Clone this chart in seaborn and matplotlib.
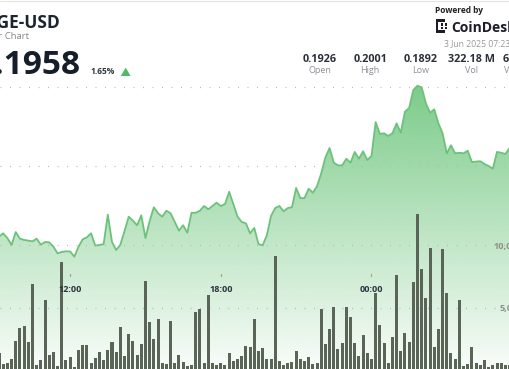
import numpy as np
import pandas as pd
import matplotlib
matplotlib.use("Agg")
import matplotlib.pyplot as plt
import seaborn as sns
from matplotlib.patches import Polygon, Rectangle
from matplotlib.lines import Line2D

# ---------------- data ----------------
bar_times = pd.date_range("2025-06-02 09:10", periods=124, freq="10min")

prices = [
    0.19053, 0.19074, 0.19044, 0.19000, 0.19082, 0.19040, 0.19032, 0.19028, 0.19023, 0.19040,
    0.19002, 0.19019, 0.19017, 0.18989, 0.18947, 0.18956, 0.18960, 0.18959, 0.18926, 0.18989,
    0.19036, 0.19049, 0.19074, 0.18996, 0.19000, 0.19006, 0.19192, 0.19019, 0.18968, 0.19002,
    0.19089, 0.19179, 0.19154, 0.19125, 0.19188, 0.19044, 0.19152, 0.19239, 0.19201, 0.19179,
    0.19217, 0.19201, 0.19146, 0.19091, 0.19125, 0.19078, 0.19204, 0.19204, 0.19217, 0.19247,
    0.19226, 0.19247, 0.19268, 0.19247, 0.19259, 0.19337, 0.19259, 0.19179, 0.19146, 0.19137,
    0.19074, 0.19108, 0.19006, 0.18998, 0.19061, 0.19184, 0.19234, 0.19247, 0.19213, 0.19234,
    0.19239, 0.19361, 0.19297, 0.19297, 0.19356, 0.19331, 0.19373, 0.19454, 0.19555, 0.19614,
    0.19521, 0.19504, 0.19504, 0.19546, 0.19521, 0.19589, 0.19546, 0.19593, 0.19538, 0.19563,
    0.19778, 0.19703, 0.19707, 0.19690, 0.19707, 0.19770, 0.19711, 0.19844, 0.19867, 0.19981,
    0.20008, 0.19998, 0.19897, 0.19837, 0.19859, 0.19770, 0.19707, 0.19580, 0.19631, 0.19580,
    0.19584, 0.19580, 0.19597, 0.19525, 0.19528, 0.19530, 0.19513, 0.19500, 0.19483, 0.19589,
    0.19584, 0.19576, 0.19614, 0.19630,
]

volumes_m = [
    1.43, 0.56, 0.64, 0.95, 2.38, 3.41, 3.57, 2.30, 6.90, 0.48,
    0.87, 5.63, 1.27, 1.51, 0.40, 8.65, 0.87, 1.11, 0.32, 1.67,
    2.06, 2.06, 0.64, 1.03, 1.51, 0.87, 1.67, 2.30, 1.51, 3.49,
    1.19, 2.94, 2.38, 1.27, 2.14, 7.14, 3.89, 2.54, 4.13, 0.64,
    0.56, 3.97, 0.64, 1.27, 0.71, 0.40, 0.48, 4.68, 4.92, 0.64,
    6.03, 0.64, 0.48, 0.64, 0.48, 1.43, 0.79, 0.95, 1.19, 1.98,
    1.90, 4.13, 1.59, 1.83, 0.95, 0.95, 9.13, 0.79, 0.48, 0.64,
    0.71, 1.59, 0.95, 0.79, 1.11, 0.56, 0.64, 4.92, 2.14, 3.33,
    5.08, 1.75, 2.22, 5.08, 4.29, 2.22, 1.19, 2.86, 1.43, 0.95,
    6.19, 3.65, 2.22, 0.64, 2.70, 7.62, 1.59, 3.02, 2.30, 7.06,
    12.46, 8.10, 5.79, 9.76, 1.90, 3.33, 9.68, 6.19, 1.43, 0.95,
    5.63, 0.40, 0.56, 1.90, 0.64, 0.48, 0.87, 0.32, 0.48, 0.64,
    0.64, 0.48, 0.48, 0.56,
]

time_labels = ["12:00", "18:00", "00:00"]
time_label_hours = [12, 18, 24]
price_grid = [0.200, 0.195]
vol_grid_m = [10, 5]
vol_grid_labels = ["10,000,000", "5,000,000"]

ticker = "DOGE-USD"
subtitle = "Bar Chart"
last_price = "0.1958"
change_pct = "1.65%"
stats_values = ["0.1926", "0.2001", "0.1892", "322.18 M", "63.08 M"]
stats_labels = ["Open", "High", "Low", "Vol", "Vol (USD)"]
timestamp = "3 Jun 2025 07:23 UTC"

# ---------------- style ----------------
sns.set_style("white")
plt.rcParams["font.family"] = ["Open Sans", "DejaVu Sans"]

W, H = 510, 369
fig = plt.figure(figsize=(W / 100, H / 100), dpi=100)
fig.patch.set_facecolor("white")


def fx(x):
    return x / W


def fy(y):
    return 1 - y / H


hours = ((bar_times - pd.Timestamp("2025-06-02")).total_seconds() / 3600).to_numpy()
vol = np.array(volumes_m) * 1e6

# axis limits chosen so that the crop matches the reference
x0, x1 = 9.2065, 9.2065 + W / 25.11
pb, ptop = 0.182152, 0.205506
vb, vtop = 0.1587e6, 29.444e6

ax = fig.add_axes([0, 0, 1, 1])
ax.set_axis_off()

# gradient area below price line
grad_n = 256
frac = np.linspace(0, 1, grad_n)
alpha = np.clip(0.04 + (0.82 - 0.04) * frac / 0.77, 0, 0.85)
rgba = np.zeros((grad_n, 1, 4))
rgba[:, 0, 0] = 96 / 255
rgba[:, 0, 1] = 192 / 255
rgba[:, 0, 2] = 112 / 255
rgba[:, 0, 3] = alpha
im = ax.imshow(rgba, extent=[x0, x1, pb, ptop], origin="lower", aspect="auto",
               zorder=1, interpolation="bilinear")
verts = list(zip(hours, prices)) + [(hours[-1], pb), (hours[0], pb)]
clip = Polygon(verts, closed=True, transform=ax.transData, facecolor="none",
               edgecolor="none")
ax.add_patch(clip)
im.set_clip_path(clip)

for p in price_grid:
    ax.axhline(p, color="#b8b8b8", lw=0.9, linestyle=(0, (0.8, 6.8)), zorder=2)

sns.lineplot(x=hours, y=prices, ax=ax, color="#6cc27a", linewidth=1.3, zorder=4)
ax.set_xlim(x0, x1)
ax.set_ylim(pb, ptop)

# volume bars
ax2 = ax.twinx()
ax2.set_axis_off()
for v in vol_grid_m:
    ax2.axhline(v * 1e6, color="#b8b8b8", lw=0.9, linestyle=(0, (0.8, 6.8)), zorder=0)
sns.barplot(x=hours, y=vol, native_scale=True, width=0.72, color="#5a6557",
            saturation=1, errorbar=None, ax=ax2, linewidth=0, zorder=2)
ax2.set_axis_off()
ax2.set_xlim(x0, x1)
ax2.set_ylim(vb, vtop)
ax.set_xlim(x0, x1)

# time labels with small ticks (drawn above the bars)
xt = ax2.get_xaxis_transform()
for h, lab in zip(time_label_hours, time_labels):
    ax2.text(h, fy(289), lab, transform=xt, ha="center", va="center",
             fontsize=6.6, fontweight="bold", color="#2d3340", zorder=10)
    ax2.plot([h, h], [fy(273.8), fy(276.2)], transform=xt, color="#a0a0a0",
             lw=0.9, zorder=10)

# volume axis labels (cut off at right)
fig.text(fx(494), fy(246), vol_grid_labels[0], ha="left", va="center",
         fontsize=6.6, fontweight="bold", color="#8d9389")
fig.text(fx(499.3), fy(308.7), vol_grid_labels[1], ha="left", va="center",
         fontsize=6.6, fontweight="bold", color="#8d9389")

# ---------------- header ----------------
fig.add_artist(Line2D([0, 1], [fy(0.6), fy(0.6)], color="#e4e4e4", lw=0.8))
fig.text(fx(60.5), fy(28.3), ticker, ha="right", va="baseline", fontsize=12.5,
         fontweight="bold", color="#1b2431")
fig.text(fx(29.2), fy(39.3), subtitle, ha="right", va="baseline", fontsize=6.8,
         color="#80858c")
fig.text(fx(80.5), fy(74), last_price, ha="right", va="baseline", fontsize=24,
         fontweight="bold", color="#161e2b")
fig.text(fx(90), fy(74), change_pct, ha="left", va="baseline", fontsize=6,
         fontweight="bold", color="#2c323a")
tri = Polygon([(fx(120.8), fy(76)), (fx(130.6), fy(76)), (fx(125.7), fy(67.6))],
              closed=True, transform=fig.transFigure, facecolor="#4fba68",
              edgecolor="none")
fig.add_artist(tri)

fig.text(fx(435.5), fy(13), "Powered by", ha="left", va="baseline", fontsize=6,
         fontweight="bold", color="#222222")
# simple CoinDesk mark
for (rx, ry, rw, rh) in [(436.5, 19.5, 2.0, 13.0), (436.5, 19.5, 9.0, 2.0),
                         (436.5, 30.5, 9.0, 2.0), (441.5, 23.5, 2.0, 2.0),
                         (441.5, 27.0, 2.0, 2.0), (445.0, 23.5, 2.0, 2.0),
                         (445.0, 27.0, 2.0, 2.0)]:
    fig.add_artist(Rectangle((fx(rx), fy(ry + rh)), rw / W, rh / H,
                             transform=fig.transFigure, facecolor="#1c1c2a",
                             edgecolor="none"))
fig.text(fx(451), fy(31.5), "CoinDesk", ha="left", va="baseline", fontsize=10,
         fontweight="bold", color="#1c1c2a")
fig.text(fx(444), fy(46.5), timestamp, ha="left", va="baseline", fontsize=6.2,
         color="#9a9a9a")

stat_x = [319.5, 370.2, 421.0, 472.0, 523.0]
for sx, val, lab in zip(stat_x, stats_values, stats_labels):
    fig.text(fx(sx), fy(61.8), val, ha="center", va="baseline", fontsize=7.8,
             fontweight="bold", color="#2b3038")
    fig.text(fx(sx), fy(73.2), lab, ha="center", va="baseline", fontsize=6.5,
             color="#8a8f96")

fig.savefig("out.png", dpi=100, facecolor="white")
